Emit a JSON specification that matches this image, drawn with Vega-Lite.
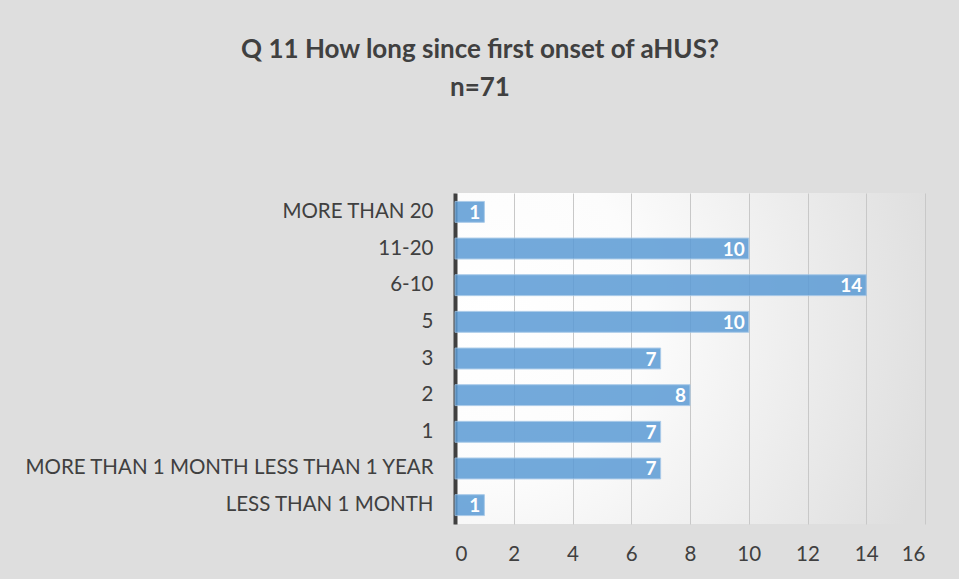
{
  "$schema": "https://vega.github.io/schema/vega-lite/v6.json",
  "autosize": {"type": "none"},
  "width": 470,
  "height": 331,
  "padding": {"left": 455, "top": 193, "right": 34, "bottom": 55},
  "background": "#dedede",
  "title": {
    "text": ["Q 11 How long since first onset of aHUS?", "n=71"],
    "anchor": "middle",
    "dx": -210,
    "offset": 92,
    "font": "Lato",
    "fontSize": 26,
    "fontWeight": "bold",
    "color": "#404040",
    "lineHeight": 38
  },
  "data": {
    "values": [
      {"category": "MORE THAN 20", "count": 1},
      {"category": "11-20", "count": 10},
      {"category": "6-10", "count": 14},
      {"category": "5", "count": 10},
      {"category": "3", "count": 7},
      {"category": "2", "count": 8},
      {"category": "1", "count": 7},
      {"category": "MORE THAN 1 MONTH LESS THAN 1 YEAR", "count": 7},
      {"category": "LESS THAN 1 MONTH", "count": 1}
    ]
  },
  "encoding": {
    "y": {
      "field": "category",
      "type": "nominal",
      "sort": null,
      "scale": {"paddingInner": 0.43, "paddingOuter": 0.23},
      "axis": {
        "title": null,
        "ticks": false,
        "labelFont": "Lato",
        "labelFontSize": 20.5,
        "labelColor": "#404040",
        "labelPadding": 22,
        "labelLimit": 500,
        "domainColor": "#404040",
        "domainWidth": 4,
        "grid": false
      }
    },
    "x": {
      "field": "count",
      "type": "quantitative",
      "scale": {"domain": [0, 16], "nice": false},
      "axis": {
        "title": null,
        "values": [0, 2, 4, 6, 8, 10, 12, 14, 16],
        "ticks": false,
        "domain": false,
        "labelFont": "Lato",
        "labelFontSize": 20.5,
        "labelColor": "#404040",
        "labelPadding": 20,
        "grid": true,
        "gridColor": "#c8c8c8",
        "gridWidth": 1
      }
    }
  },
  "layer": [
    {
      "mark": {"type": "bar", "color": "#5b9bd5", "opacity": 0.85, "stroke": "#9dc3e6", "strokeWidth": 1}
    },
    {
      "mark": {"type": "text", "align": "right", "baseline": "middle", "dx": -4, "dy": 1, "font": "Lato", "fontSize": 19, "fontWeight": "bold", "color": "#ffffff"},
      "encoding": {"text": {"field": "count", "type": "quantitative"}}
    }
  ],
  "config": {
    "view": {
      "stroke": null,
      "fill": {
        "gradient": "radial",
        "x1": 0.06, "y1": 0.41, "r1": 0,
        "x2": 0.06, "y2": 0.41, "r2": 1.0,
        "stops": [
          {"offset": 0, "color": "#ffffff"},
          {"offset": 0.35, "color": "#fcfcfc"},
          {"offset": 1, "color": "#dedede"}
        ]
      }
    }
  }
}
